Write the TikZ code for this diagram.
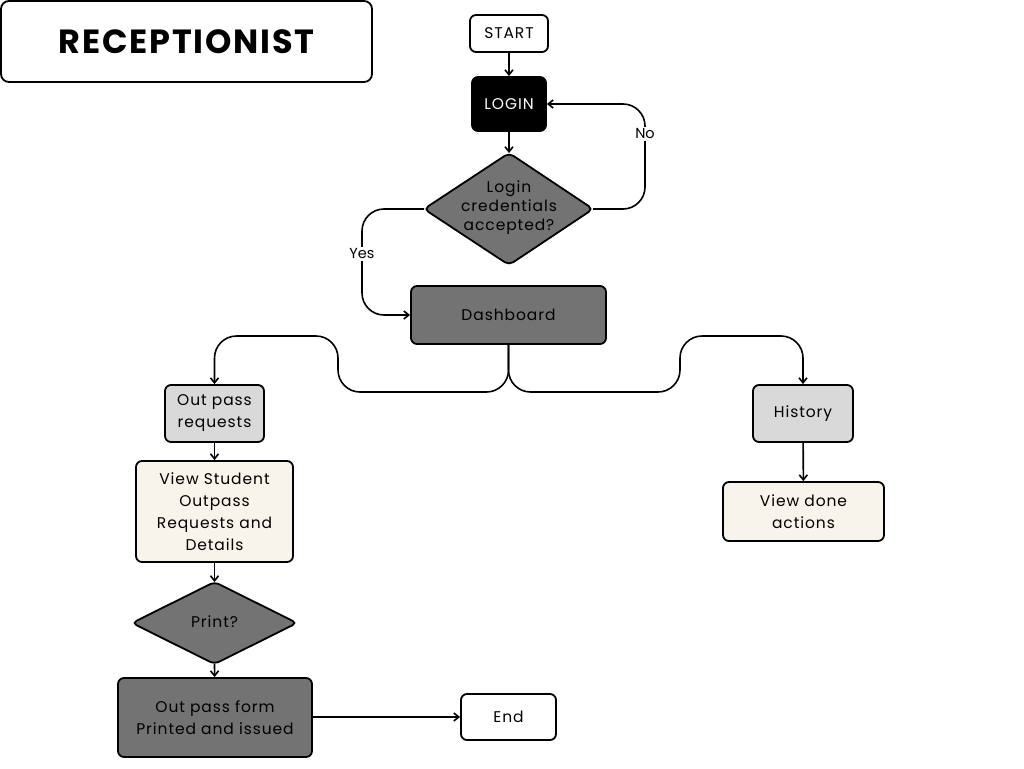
\documentclass[tikz,border=0pt]{standalone}
\usepackage{fontspec}
\setmainfont{Poppins}
\newfontfamily\bodyfont[LetterSpace=6]{Poppins}
\newfontfamily\titlefont[LetterSpace=5.5]{Poppins Bold}
\usetikzlibrary{shapes.geometric,arrows.meta}
\definecolor{dgray}{HTML}{737373}
\definecolor{lgray}{HTML}{D9D9D9}
\definecolor{cream}{HTML}{F8F4EC}
\tikzset{
  box/.style={draw=black, line width=1.8pt, rounded corners=6pt, align=center, inner sep=0pt,
    font=\bodyfont\fontsize{15.5}{22}\selectfont},
  diatext/.style={align=center, inner sep=0pt, font=\bodyfont\fontsize{15.5}{19}\selectfont},
  diashape/.style={draw=black, line width=1.8pt, fill=dgray, rounded corners=5pt},
  conn/.style={line width=1.6pt, -{Straight Barb[length=5pt,width=8pt]}},
  lbl/.style={fill=white, inner sep=2pt, font=\fontsize{14.5}{16}\selectfont}
}
\begin{document}
\begin{tikzpicture}[x=1pt,y=-1pt]
\useasboundingbox (0,0) rectangle (1024,768);
\fill[white] (0,0) rectangle (1024,768);
% title
\node[box, fill=white, minimum width=371pt, minimum height=81pt, rounded corners=8pt,
  font=\titlefont\fontsize{33.5}{36}\selectfont] (title) at (186.5,41.5) {RECEPTIONIST};
% nodes
\node[box, fill=white, minimum width=78pt, minimum height=37pt] (start) at (509,33.5) {START};
\node[box, fill=black, text=white, minimum width=74pt, minimum height=54pt] (login) at (509,104) {LOGIN};
% decision 1
\coordinate (credN) at (509,153);
\coordinate (credE) at (593,209);
\coordinate (credS) at (509,265);
\coordinate (credW) at (424,209);
\draw[diashape] (credN) -- (credE) -- (credS) -- (credW) -- cycle;
\node[diatext] (cred) at (509,208) {Login\\credentials\\accepted?};
\node[box, fill=dgray, minimum width=195pt, minimum height=58pt] (dash) at (508.5,315) {Dashboard};
\node[box, fill=lgray, minimum width=99pt, minimum height=57pt] (opr) at (214.5,413.5) {Out pass\\requests};
\node[box, fill=cream, minimum width=157pt, minimum height=101pt] (view) at (214.5,511.5) {View Student\\Outpass\\Requests and\\Details};
% decision 2
\coordinate (printN) at (214.5,582);
\coordinate (printE) at (297,623);
\coordinate (printS) at (214.5,664);
\coordinate (printW) at (132,623);
\draw[diashape] (printN) -- (printE) -- (printS) -- (printW) -- cycle;
\node[diatext] (print) at (214.5,622) {Print?};
\node[box, fill=dgray, minimum width=194pt, minimum height=79pt] (form) at (215,717.5) {Out pass form\\Printed and issued};
\node[box, fill=white, minimum width=95pt, minimum height=46pt] (end) at (508.5,717) {End};
\node[box, fill=lgray, minimum width=100pt, minimum height=57pt] (hist) at (803,413.5) {History};
\node[box, fill=cream, minimum width=161pt, minimum height=59pt] (done) at (803.5,511.5) {View done\\actions};
% connectors
\draw[conn] (start) -- (login);
\draw[conn] (login) -- (credN);
\draw[conn, rounded corners=22pt] (credE) -- (645,209) -- (645,104) -- (login.east);
\node[lbl] (no) at (645,134) {No};
\draw[conn, rounded corners=22pt] (credW) -- (362,209) -- (362,315) -- (dash.west);
\node[lbl] (yes) at (362,254) {Yes};
\draw[conn, rounded corners=22pt] (dash.south) -- (508.5,392) -- (338,392) -- (338,336) -- (214.5,336) -- (opr.north);
\draw[conn, rounded corners=22pt] (dash.south) -- (508.5,392) -- (680,392) -- (680,336) -- (803,336) -- (hist.north);
\draw[conn] (opr) -- (view);
\draw[conn] (view) -- (printN);
\draw[conn] (printS) -- (form);
\draw[conn] (form.east |- end.west) -- (end.west);
\draw[conn] (hist) -- (done);
\end{tikzpicture}
\end{document}
